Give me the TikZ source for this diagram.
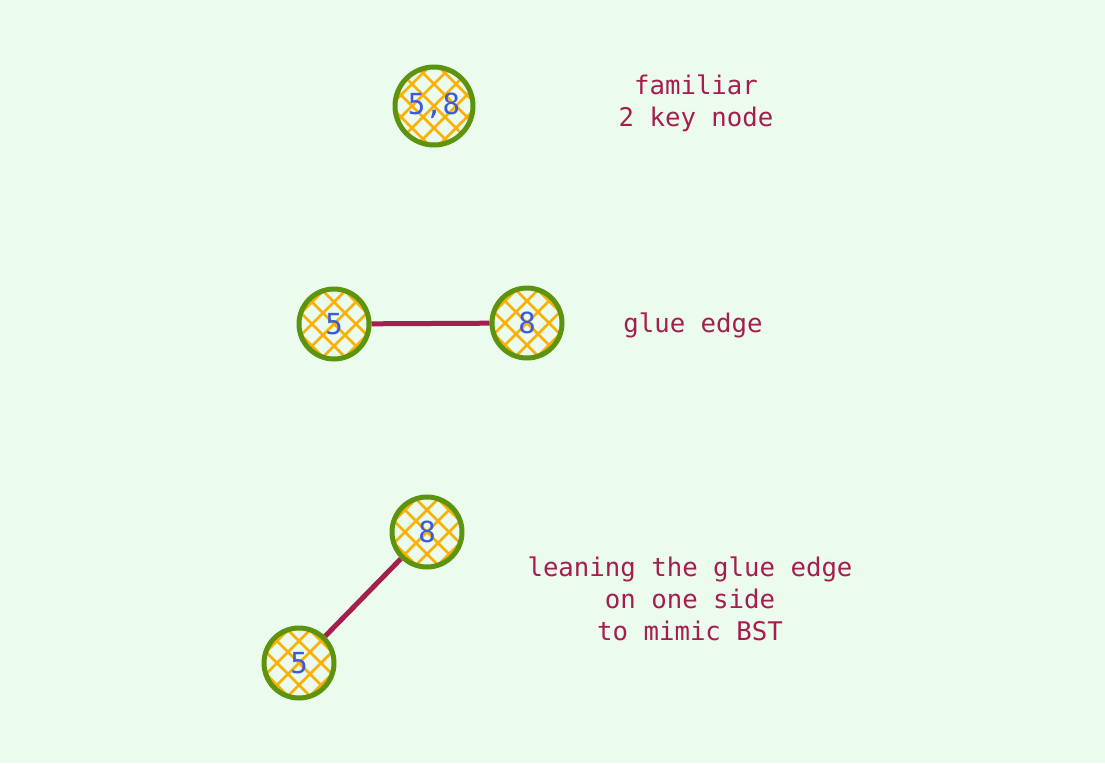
\documentclass[tikz,border=0pt]{standalone}
\usepackage{fontspec}
\setmonofont{DejaVu Sans Mono}
\usetikzlibrary{backgrounds}
\definecolor{bg}{HTML}{EBFBEE}
\definecolor{wine}{HTML}{A61E4D}
\definecolor{lime}{HTML}{5C940D}
\definecolor{amber}{HTML}{FAB005}
\definecolor{keyblue}{HTML}{3B5BDB}
% cross hatching inside a key node
\newcommand\hatchnode[2]{%
  \begin{scope}[shift={(#1.center)}]
    \clip (0,0) circle (#2);
    \foreach \d in {-66,-44,...,66}{
      \draw[hatch] (\d-60,-60) -- (\d+60,60);
      \draw[hatch] (\d-60,60) -- (\d+60,-60);
    }
  \end{scope}}

\begin{document}
\begin{tikzpicture}[x=1pt,y=-1pt,
  keynode/.style={circle,draw=lime,line width=5pt,minimum size=70pt,inner sep=0pt,
    text=keyblue,font=\ttfamily\fontsize{29}{32}\selectfont},
  hatch/.style={draw=amber,line width=2.6pt},
  note/.style={align=center,text=wine,font=\ttfamily\fontsize{25.7}{32}\selectfont},
  glue/.style={draw=wine,line width=5pt}]
\useasboundingbox (0,0) rectangle (1105,763);
% familiar 2-node
\node[keynode,minimum size=78pt] (pair) at (434,106) {5,8};
\node[note] (pairnote) at (696,103) {familiar\\2 key node};
% glued pair
\node[keynode] (gfive) at (334,324) {5};
\node[keynode] (geight) at (527,323) {8};
\draw[glue] (gfive) -- (geight);
\node[note] (gluenote) at (693,325) {glue edge};
% leaning pair
\node[keynode] (leight) at (427,532) {8};
\node[keynode] (lfive) at (299,663) {5};
\draw[glue] (lfive) -- (leight);
\node[note] (leannote) at (690,599) {leaning the glue edge\\on one side\\to mimic BST};
\begin{scope}[on background layer]
  \fill[bg] (0,0) rectangle (1105,763);
  \hatchnode{pair}{38}
  \hatchnode{gfive}{34}
  \hatchnode{geight}{34}
  \hatchnode{leight}{34}
  \hatchnode{lfive}{34}
\end{scope}
\end{tikzpicture}
\end{document}
